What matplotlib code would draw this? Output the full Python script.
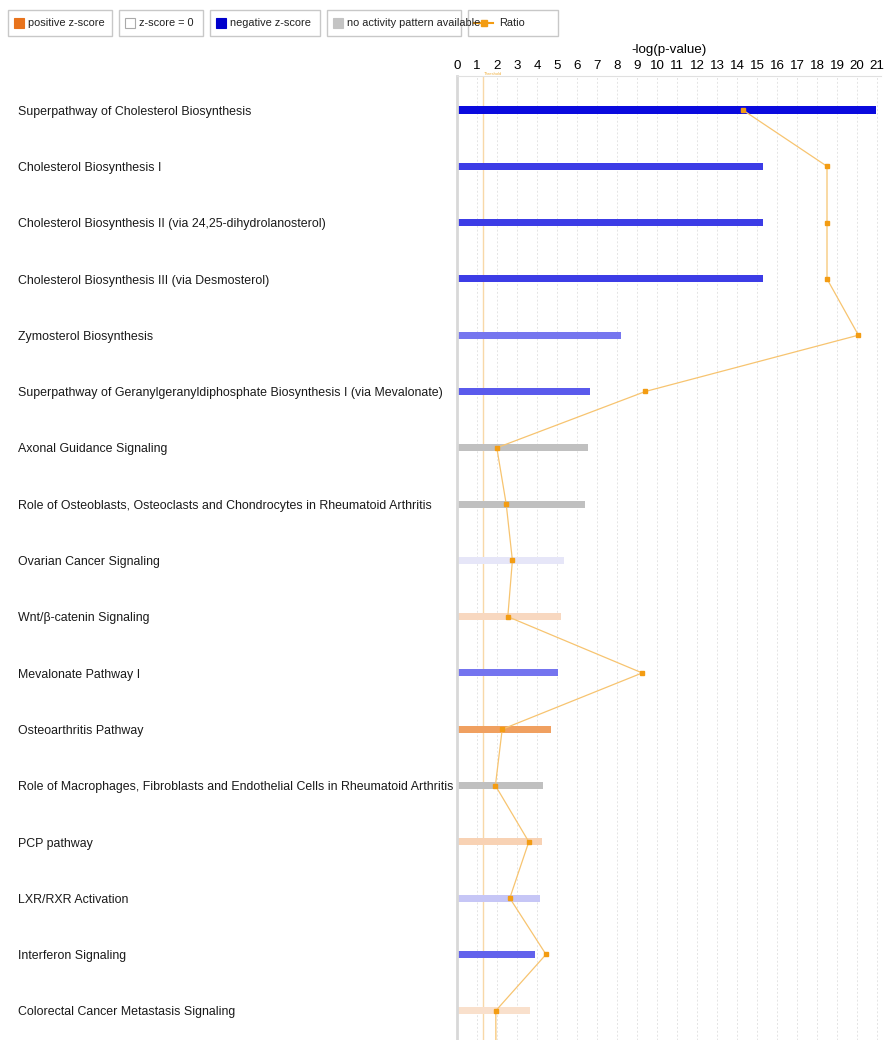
import numpy as np
import matplotlib
matplotlib.use('Agg')
import matplotlib.pyplot as plt
from matplotlib.patches import Rectangle
from matplotlib.lines import Line2D

plt.rcParams['font.family'] = ['Liberation Sans', 'DejaVu Sans']

pathways = [
    "Superpathway of Cholesterol Biosynthesis",
    "Cholesterol Biosynthesis I",
    "Cholesterol Biosynthesis II (via 24,25-dihydrolanosterol)",
    "Cholesterol Biosynthesis III (via Desmosterol)",
    "Zymosterol Biosynthesis",
    "Superpathway of Geranylgeranyldiphosphate Biosynthesis I (via Mevalonate)",
    "Axonal Guidance Signaling",
    "Role of Osteoblasts, Osteoclasts and Chondrocytes in Rheumatoid Arthritis",
    "Ovarian Cancer Signaling",
    "Wnt/\u03b2-catenin Signaling",
    "Mevalonate Pathway I",
    "Osteoarthritis Pathway",
    "Role of Macrophages, Fibroblasts and Endothelial Cells in Rheumatoid Arthritis",
    "PCP pathway",
    "LXR/RXR Activation",
    "Interferon Signaling",
    "Colorectal Cancer Metastasis Signaling",
]
neg_log_p = [20.95, 15.3, 15.3, 15.3, 8.19, 6.67, 6.57, 6.42, 5.35, 5.21,
             5.05, 4.70, 4.31, 4.24, 4.13, 3.88, 3.64]
bar_colors = ['#0a0ade', '#3c3ce6', '#3c3ce6', '#3c3ce6', '#7676ef',
              '#5a5aec', '#c0c0c0', '#c0c0c0', '#e6e6f8', '#f8d8c0',
              '#7474ef', '#f0a060', '#c0c0c0', '#f8d2b4', '#c6c6f6',
              '#6262ec', '#f9e0cc']
# ratio drawn on its own (hidden) scale; last point is the next row, off the page
ratio_pos = [14.29, 18.5, 18.5, 18.5, 20.07, 9.42, 1.99, 2.46, 2.77, 2.54,
             9.26, 2.26, 1.92, 3.59, 2.64, 4.45, 1.94, 1.95]
threshold = 1.3

legend_labels = ['positive z-score', 'z-score = 0', 'negative z-score',
                 'no activity pattern available', 'Ratio']

W, H = 889, 1040
fig = plt.figure(figsize=(W / 100, H / 100), dpi=100)
ax = fig.add_axes([457 / W, 0.0, (881 - 457) / W, 1 - 76 / H])

rows = np.arange(len(pathways))
ax.barh(rows, neg_log_p, height=0.125, color=bar_colors, zorder=2)

ax.set_xlim(0, 21.2)
ax.set_ylim(16.52, -0.604)
ax.xaxis.tick_top()
ax.xaxis.set_label_position('top')
ax.set_xticks(range(22))
ax.tick_params(axis='x', length=0, pad=3, labelsize=9.6)
ax.set_xlabel('-log(p-value)', fontsize=9.6, labelpad=5)
ax.set_yticks([])
for x in range(1, 22):
    ax.axvline(x, color='#e4e4e4', lw=0.7, ls=(0, (2, 2)), zorder=0)

for s in ['right', 'bottom']:
    ax.spines[s].set_visible(False)
ax.spines['left'].set_color('#d8d8d8')
ax.spines['left'].set_linewidth(2)
ax.spines['top'].set_color('#e0e0e0')
ax.spines['top'].set_linewidth(0.8)

ax.axvline(threshold, color='#f8d8a8', lw=1, zorder=1)
ax.text(threshold + 0.05, -0.61, 'Threshold', color='#f0b040', fontsize=3,
        va='bottom', ha='left')

ratio_rows = np.arange(len(ratio_pos))
ax.plot(ratio_pos, ratio_rows, color='#f7c470', lw=0.9, marker='s', ms=3.2,
        mfc='#f39c12', mec='#f39c12', zorder=3, clip_on=True)

for i, name in enumerate(pathways):
    ax.text(-438 / 19.95, i + 0.03, name, fontsize=8.9, va='center', ha='left',
            color='#1a1a1a')

# legend boxes along the top (pixel layout)
def px(x, y):
    return x / W, 1 - y / H

box_x = [(8, 112), (119, 203), (210, 320), (327, 461), (468, 558)]
swatch = ['#e8731c', 'white', '#0000cc', '#c4c4c4', None]
for (x0, x1), col, label in zip(box_x, swatch, legend_labels):
    fx, fy = px(x0, 36)
    fig.patches.append(Rectangle((fx, fy), (x1 - x0) / W, 26 / H,
                                 transform=fig.transFigure, fc='white',
                                 ec='#c8c8c8', lw=1))
    if col is not None:
        sx, sy = px(x0 + 6, 28)
        fig.patches.append(Rectangle((sx, sy), 10 / W, 10 / H,
                                     transform=fig.transFigure, fc=col,
                                     ec='#aaaaaa' if col == 'white' else col,
                                     lw=0.8))
        tx = x0 + 20
    else:
        lx0, ly = px(x0 + 6, 23)
        lx1, _ = px(x0 + 25, 23)
        fig.lines.append(Line2D([lx0, lx1], [ly, ly], transform=fig.transFigure,
                                color='#f39c12', lw=1.5))
        mx, _ = px(x0 + 15.5, 23)
        fig.lines.append(Line2D([mx], [ly], transform=fig.transFigure,
                                marker='s', ms=5, color='#f39c12'))
        tx = x0 + 31
    tpx, tpy = px(tx, 23.5)
    fig.text(tpx, tpy, label, fontsize=7.9, va='center', ha='left',
             color='#222222')

fig.savefig('out.png', dpi=100)
